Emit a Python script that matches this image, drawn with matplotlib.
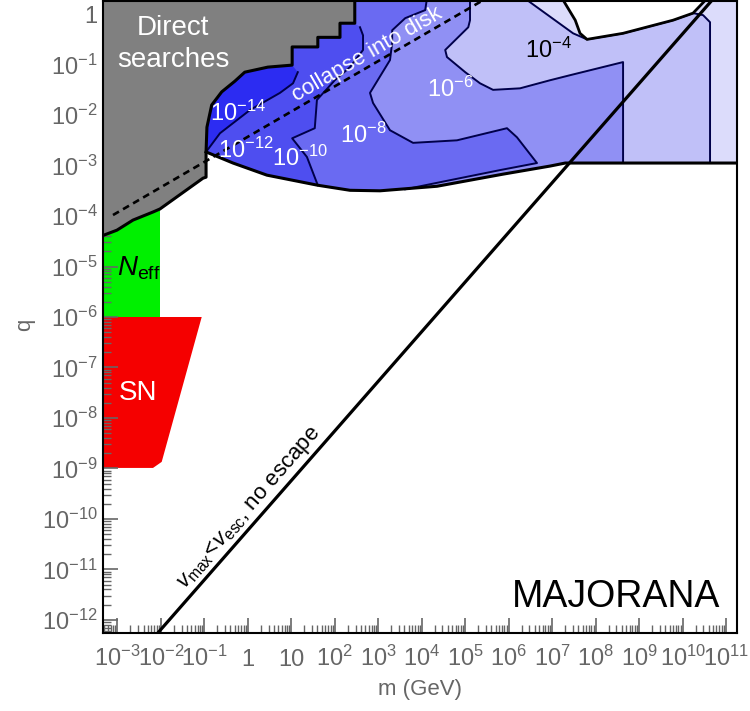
import matplotlib
matplotlib.use("Agg")
import matplotlib.pyplot as plt
import numpy as np

plt.rcParams['font.family'] = ['Liberation Sans', 'DejaVu Sans']
plt.rcParams['mathtext.fontset'] = 'custom'
plt.rcParams['mathtext.rm'] = 'Liberation Sans'
plt.rcParams['mathtext.it'] = 'Liberation Sans:italic'
plt.rcParams['mathtext.bf'] = 'Liberation Sans:bold'

# every number below is log10(m / GeV) or log10(q)
xlim = (-3.33, 11.25)
ylim = (-12.26, 0.26)
x_decades = list(range(-3, 12))
y_decades = list(range(-12, 1))

# direct searches (gray), lower edge then staircase up to the top
gray_x = [-3.5, -3.01, -2.64, -2.18, -2.02, -1.03, -0.96, -0.96, -0.94, -0.83, -0.60,
          -0.30, -0.07, 0.46, 1.02, 1.02, 1.61, 1.61, 2.12, 2.12, 2.46, 2.46]
gray_y = [-4.44, -4.28, -4.08, -3.92, -3.86, -3.25, -3.23, -2.73, -2.24, -1.80, -1.54,
          -1.33, -1.15, -1.05, -1.01, -0.65, -0.65, -0.46, -0.46, -0.18, -0.18, 1.0]

# lower edge of the excluded blue region
bottom_x = [-0.96, -0.34, 0.44, 1.61, 2.35, 3.04, 4.35, 5.87, 6.95, 7.30, 12.0]
bottom_y = [-2.73, -2.95, -3.19, -3.39, -3.49, -3.50, -3.41, -3.17, -3.01, -2.95, -2.95]

# contour lines (from the upper edge down to the bottom edge)
c14_x = [1.15, 1.04, 0.74, 0.05, -0.64, -0.96]
c14_y = [-1.15, -1.37, -1.56, -1.90, -2.36, -2.73]
c12_x = [2.58, 2.65, 2.65, 2.35, 2.00, 1.59, 1.54, 1.02, 1.36, 1.61]
c12_y = [-0.26, -0.42, -0.71, -1.05, -1.31, -1.70, -2.26, -2.46, -2.83, -3.39]
c8_x = [4.24, 4.08, 3.62, 3.32, 3.32, 3.27, 2.81, 2.88, 3.27, 3.80, 4.81, 5.96, 6.19,
        6.65, 5.80, 4.42, 3.62]
c8_y = [1.0, 0.08, -0.08, -0.32, -0.57, -0.91, -1.56, -1.76, -2.30, -2.55, -2.50, -2.26,
        -2.44, -2.95, -3.09, -3.33, -3.47]
c6_x = [5.11, 5.11, 5.07, 4.54, 4.58, 5.00, 5.34, 5.64, 6.26, 6.95, 7.41, 8.63, 8.63]
c6_y = [1.0, -0.12, -0.26, -0.71, -0.85, -1.15, -1.37, -1.50, -1.47, -1.31, -1.21, -0.95, -2.95]
c4_x = [6.42, 6.42, 7.48, 7.80, 8.63, 9.78, 10.24, 10.47, 10.63, 10.63]
c4_y = [1.0, 0.28, -0.38, -0.50, -0.38, -0.12, 0.02, -0.02, -0.16, -2.95]
outer_x = [12.0, 12.0]
outer_y = [1.0, -2.95]

# allowed island at the top
hole_x = [7.25, 7.25, 7.53, 7.64, 7.80, 8.63, 9.78, 10.24, 10.55, 10.55]
hole_y = [1.0, 0.28, -0.12, -0.38, -0.50, -0.38, -0.12, 0.02, 0.30, 1.0]

band_colors = ['#dcdcfb', '#c0c0f8', '#9090f4', '#6a6af2', '#4e4ef0', '#2c2cf2']

# N_eff and supernova bounds
neff_x = [-3.5, -2.02, -2.02, -3.5]
neff_y = [-6.0, -6.0, -3.5, -3.5]
sn_x = [-3.5, -1.06, -1.98, -2.18, -3.5]
sn_y = [-6.0, -6.0, -8.87, -8.99, -8.99]

# collapse into disk (dashed) and v_max < v_esc (solid)
disk_x = [-3.1, 5.5]
disk_y = [-3.98, 0.32]
esc_x = [-2.07, 10.66]
esc_y = [-12.26, 0.26]

edge_x = gray_x[7:]
edge_y = gray_y[7:]


def p(v):
    return 10.0 ** np.asarray(v)


def band(n_edge, cx, cy):
    xs = edge_x[:n_edge] + cx
    ys = edge_y[:n_edge] + cy
    end = cx[-1]
    for bx, by in reversed(list(zip(bottom_x, bottom_y))):
        if bx < end - 1e-6:
            xs.append(bx)
            ys.append(by)
    return p(xs), p(ys)


fig = plt.figure(figsize=(7.5, 7.11), dpi=100)
ax = fig.add_axes([103 / 750, 78 / 711, 634 / 750, 632 / 711])
ax.set_xscale('log')
ax.set_yscale('log')

ax.fill(p(neff_x), p(neff_y), color='#00f000', lw=0, zorder=1)
ax.fill(p(sn_x), p(sn_y), color='#f50000', lw=0, zorder=1)

layers = [(15, outer_x, outer_y), (15, c4_x, c4_y), (15, c6_x, c6_y),
          (15, c8_x, c8_y), (14, c12_x, c12_y), (8, c14_x, c14_y)]
for (n, cx, cy), col in zip(layers, band_colors):
    xs, ys = band(n, cx, cy)
    ax.fill(xs, ys, color=col, lw=0, zorder=2)
for n, cx, cy in layers[1:]:
    ax.plot(p(cx), p(cy), color='#00004a', lw=1.4, zorder=3)

ax.fill(p(hole_x), p(hole_y), color='white', lw=0, zorder=3)
ax.plot(p(hole_x[1:-1]), p(hole_y[1:-1]), color='black', lw=2, zorder=4)

ax.fill(p(gray_x + [-3.5]), p(gray_y + [1.0]), color='#808080', lw=0, zorder=3)
ax.plot(p(gray_x), p(gray_y), color='black', lw=2.2, zorder=4)
ax.plot(p(bottom_x), p(bottom_y), color='black', lw=2.2, zorder=4)

ax.plot(p(disk_x), p(disk_y), color='black', lw=1.9, ls=(0, (2.6, 1.8)), zorder=5)
ax.plot(p(esc_x), p(esc_y), color='black', lw=2.3, zorder=5)

ax.set_xlim(p(xlim))
ax.set_ylim(p(ylim))


def dec_label(k):
    if k == 0:
        return '1'
    if k == 1:
        return '10'
    return r'$10^{%d}$' % k


gc = '#666666'
ax.set_xticks(p(x_decades))
ax.set_xticklabels([dec_label(k) for k in x_decades])
ax.set_yticks(p(y_decades))
ax.set_yticklabels([dec_label(k) for k in y_decades])
ax.xaxis.set_minor_locator(matplotlib.ticker.LogLocator(base=10, subs=np.arange(2, 10), numticks=100))
ax.yaxis.set_minor_locator(matplotlib.ticker.LogLocator(base=10, subs=np.arange(2, 10), numticks=100))
ax.xaxis.set_minor_formatter(matplotlib.ticker.NullFormatter())
ax.yaxis.set_minor_formatter(matplotlib.ticker.NullFormatter())
ax.tick_params(which='both', direction='in', color=gc, labelcolor=gc, labelsize=17,
               top=False, right=False)
ax.tick_params(which='major', length=11, width=1.2)
ax.tick_params(which='minor', length=5.5, width=1)
ax.tick_params(axis='x', pad=24)
ax.tick_params(axis='y', pad=4)
for t in ax.get_xticklabels():
    t.set_va('baseline')
for s in ax.spines.values():
    s.set_linewidth(1.5)
    s.set_zorder(6)

# labels inside the plot
ax.text(p(-1.72), p(-0.59), 'Direct\nsearches', color='white', fontsize=20,
        ha='center', va='center', linespacing=1.3, zorder=7)
ax.text(p(2.75), p(-0.80), 'collapse into disk', color='white', fontsize=16,
        ha='center', va='center', rotation=30, zorder=7)
cont_labels = [(-0.22, -1.96, -14, 'white'), (-0.04, -2.69, -12, 'white'),
               (1.20, -2.85, -10, 'white'), (2.65, -2.40, -8, 'white'),
               (4.65, -1.49, -6, 'white'), (6.91, -0.71, -4, 'black')]
for lx, ly, k, col in cont_labels:
    ax.text(p(lx), p(ly), r'$10^{%d}$' % k, color=col, fontsize=17,
            ha='center', va='center', zorder=7)
ax.text(p(-2.51), p(-5.03), r'$N_{\mathrm{eff}}$', color='black', fontsize=20,
        ha='center', va='center', zorder=7)
ax.text(p(-2.53), p(-7.50), 'SN', color='white', fontsize=20,
        ha='center', va='center', zorder=7)
ax.text(p(0.05), p(-9.80), r'$v_{\mathrm{max}}\!<\!v_{\mathrm{esc}}$, no escape',
        color='black', fontsize=16, ha='center', va='center', rotation=49, zorder=7)
ax.text(p(8.47), p(-11.54), 'MAJORANA', color='black', fontsize=27,
        ha='center', va='center', zorder=7)

fig.text(420 / 750, 1 - 690 / 711, 'm (GeV)', color=gc, fontsize=16, ha='center', va='center')
fig.text(25 / 750, 1 - 325 / 711, 'q', color=gc, fontsize=16, ha='center', va='center',
         rotation=90)

fig.savefig('out.png', dpi=100)
